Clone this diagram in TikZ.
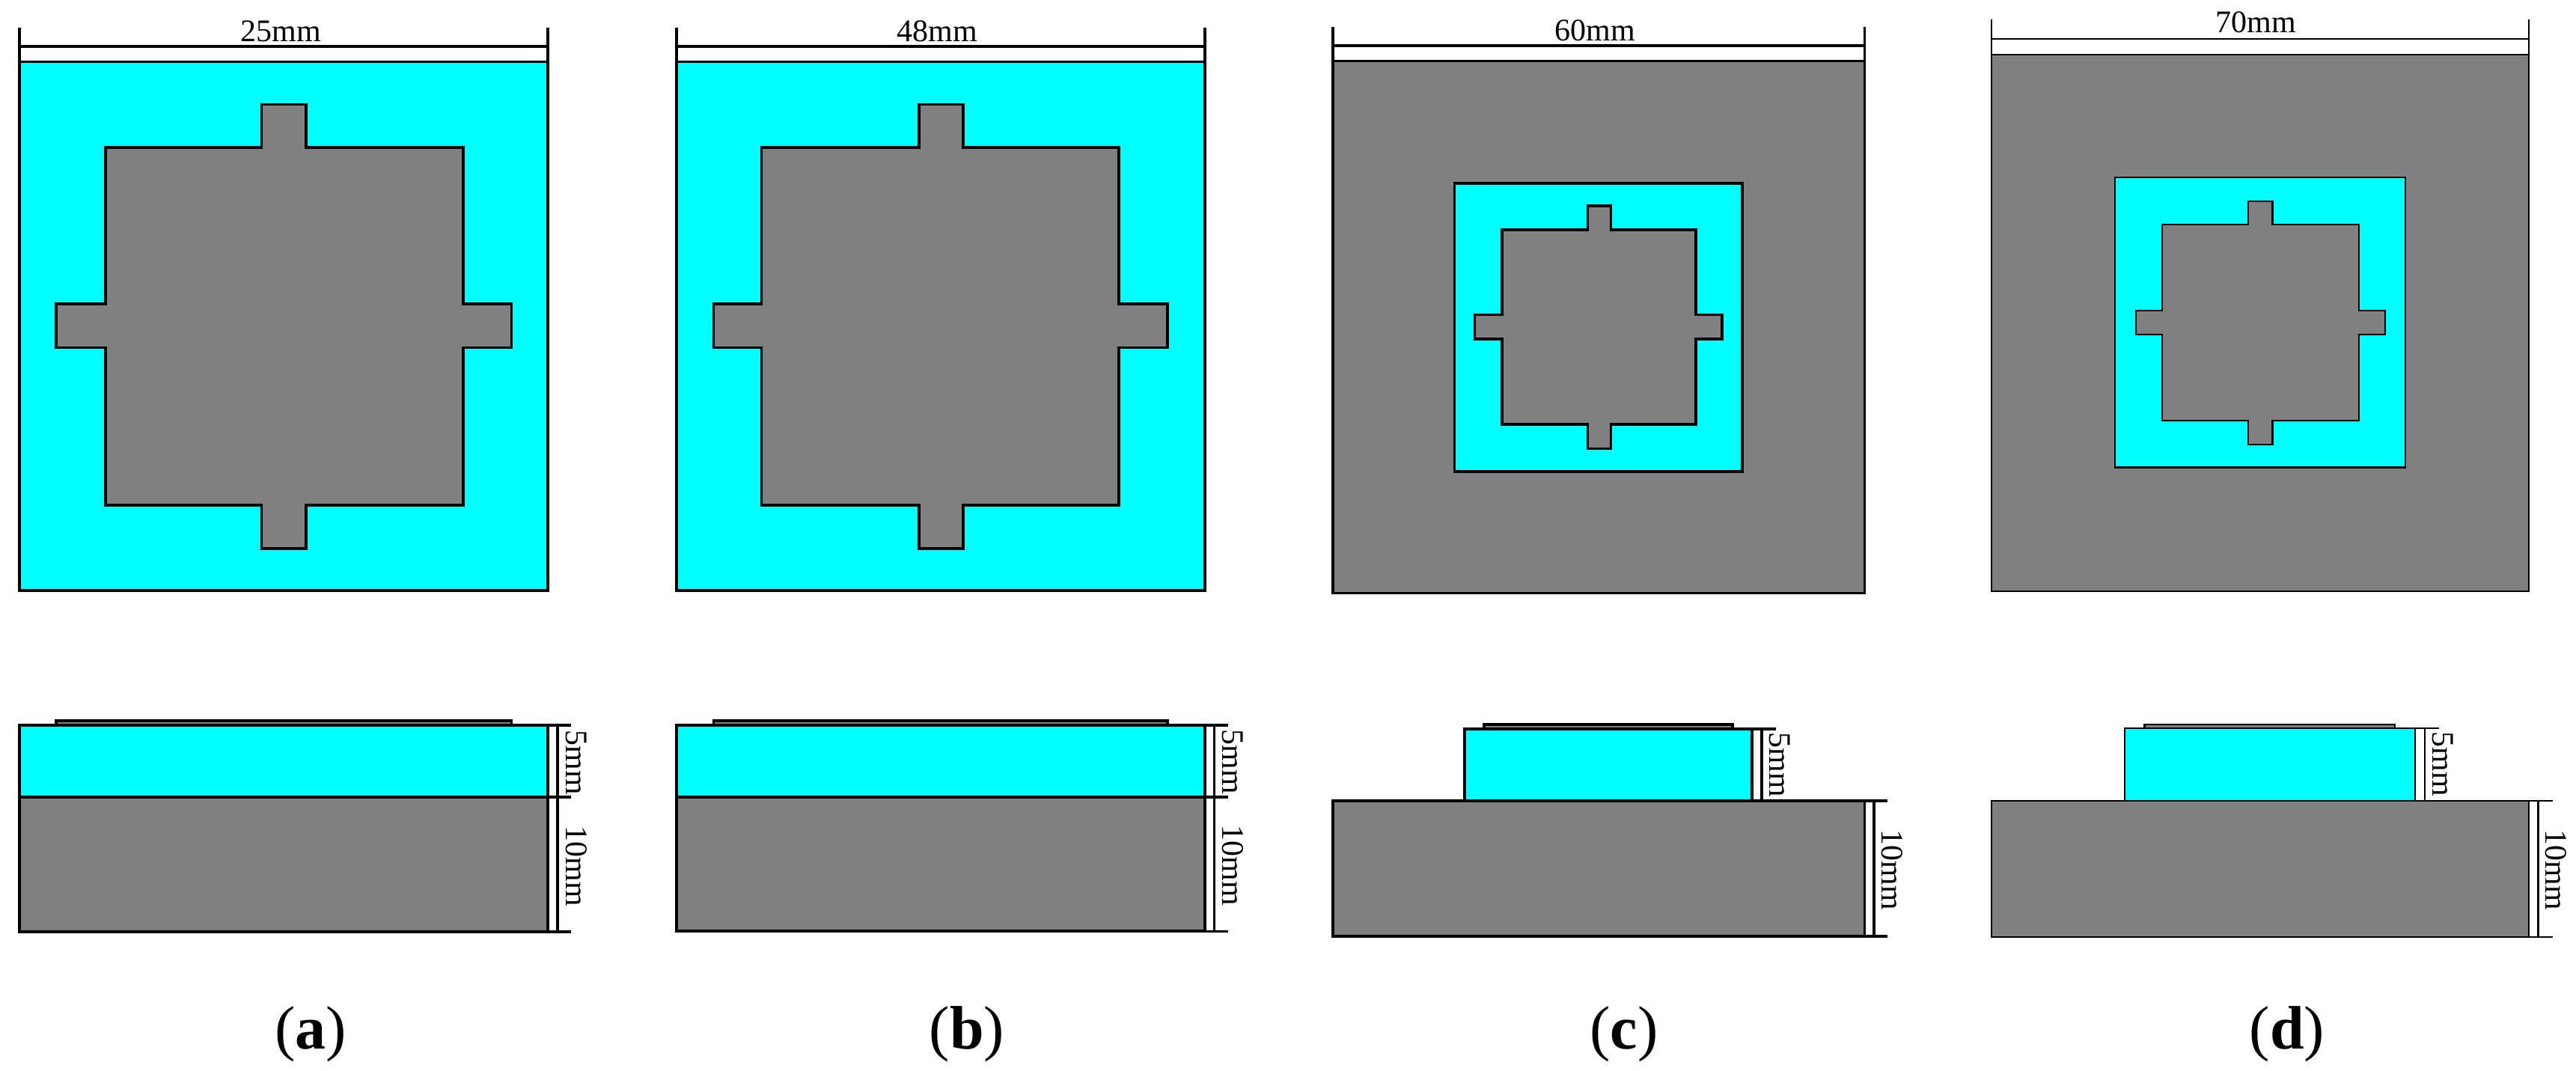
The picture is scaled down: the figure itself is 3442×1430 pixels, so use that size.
\documentclass[tikz,border=0pt]{standalone}
\usepackage{fontspec}
\setmainfont{Liberation Serif}
\definecolor{cy}{HTML}{00FFFF}
\definecolor{gy}{HTML}{808080}
\tikzset{
  x=0.5pt,y=-0.5pt,
  part/.style={draw=black,line join=miter,line width=#1},
  part/.default=1.85pt,
  dimtext/.style={font=\fontsize{21}{25}\selectfont,inner sep=0pt,anchor=base},
  sidetext/.style={dimtext,rotate=-90},
  caption/.style={font=\fontsize{41}{48}\selectfont,inner sep=0pt,anchor=base}
}
% y levels of a cross
\newcommand{\crossy}[6]{\def\ya{#1}\def\yb{#2}\def\yc{#3}\def\yd{#4}\def\ye{#5}\def\yf{#6}}
% #1 style, #2..#7 x levels
\newcommand{\drawcross}[7]{\draw[#1] (#3,\yb) -- (#4,\yb) -- (#4,\ya) -- (#5,\ya) -- (#5,\yb) -- (#6,\yb) -- (#6,\yc) -- (#7,\yc) -- (#7,\yd) -- (#6,\yd) -- (#6,\ye) -- (#5,\ye) -- (#5,\yf) -- (#4,\yf) -- (#4,\ye) -- (#3,\ye) -- (#3,\yd) -- (#2,\yd) -- (#2,\yc) -- (#3,\yc) -- cycle;}
\begin{document}
\begin{tikzpicture}
\useasboundingbox (0,0) rectangle (3442,1430);
% ---------- (a)
\draw[part,fill=cy] (25.8,82.6) rectangle (732,788.7);
\crossy{139.6}{197}{406}{464.4}{675}{733}
\drawcross{part,fill=gy}{75}{141}{349.4}{408.7}{619}{683.5}
\draw[part] (25.8,36.6) -- (25.8,82.6) (732,36.6) -- (732,82.6) (25.8,61.7) -- (732,61.7);
\node[dimtext] (la) at (375,55) {25mm};
\draw[part,fill=gy] (75,969.3) |- (683.5,963.3) -- (683.5,969.3);
\draw[part,fill=cy] (25.8,969.3) rectangle (732,1065);
\draw[part,fill=gy] (25.8,1065) rectangle (732,1244.7);
\draw[part] (732,969.3) -- (762.5,969.3) (732,1065) -- (762.5,1065) (732,1244.7) -- (762.5,1244.7) (745,969.3) -- (745,1244.7);
\node[sidetext] (sa1) at (756,1018.7) {5mm};
\node[sidetext] (sa2) at (756,1157) {10mm};
\node[caption] (ca) at (415,1401.7) {(\textbf{a})};
% ---------- (b)
\draw[part,fill=cy] (904,82.6) rectangle (1610,788.7);
\drawcross{part,fill=gy}{953.4}{1017.6}{1227.7}{1287}{1495.3}{1560}
\draw[part] (904,36.6) -- (904,82.6) (1610,36.6) -- (1610,82.6) (904,61.7) -- (1610,61.7);
\node[dimtext] (lb) at (1252,55) {48mm};
\draw[part,fill=gy] (953.4,969.3) |- (1560,963.3) -- (1560,969.3);
\draw[part,fill=cy] (904,969.3) rectangle (1610,1065);
\draw[part,fill=gy] (904,1065) rectangle (1610,1244);
\draw[part] (1610,969.3) -- (1640.7,969.3) (1610,1065) -- (1640.7,1065) (1610,1244.5) -- (1640.7,1244.5) (1622.6,969.3) -- (1622.6,1244.5);
\node[sidetext] (sb1) at (1633.6,1018) {5mm};
\node[sidetext] (sb2) at (1633.6,1156) {10mm};
\node[caption] (cb) at (1292,1401.7) {(\textbf{b})};
% ---------- (c)
\draw[part,fill=gy] (1781.3,81.6) rectangle (2491.6,792.4);
\draw[part,fill=cy] (1943.6,244.8) rectangle (2328.2,630.2);
\crossy{275}{307}{420.5}{453}{567}{599.4}
\drawcross{part,fill=gy}{1970.5}{2006.7}{2121.4}{2152.6}{2266.2}{2301.3}
\draw[part] (1781.3,35.6) -- (1781.3,81.6) (2491.6,35.6) -- (2491.6,81.6) (1781.3,60.7) -- (2491.6,60.7);
\node[dimtext] (lc) at (2131.2,54) {60mm};
\draw[part,fill=gy] (1983,974.3) |- (2315,968.3) -- (2315,974.3);
\draw[part,fill=cy] (1956.8,974.3) rectangle (2340.8,1070);
\draw[part,fill=gy] (1781.3,1070) rectangle (2491.6,1251);
\draw[part] (2340.8,974.3) -- (2372.6,974.3) (2354,974.3) -- (2354,1070) (2491.6,1070) -- (2522.3,1070) (2491.6,1251) -- (2522.3,1251) (2504.3,1070) -- (2504.3,1251);
\node[sidetext] (sc1) at (2364.4,1022) {5mm};
\node[sidetext] (sc2) at (2514,1162.6) {10mm};
\node[caption] (cc) at (2170,1401.7) {(\textbf{c})};
% ---------- (d)
\draw[part=1.1pt,fill=gy] (2661,73.2) rectangle (3379.3,789.7);
\draw[part=1.1pt,fill=cy] (2826,237) rectangle (3214,624.5);
\crossy{268.8}{300}{414.7}{447}{562}{594}
\drawcross{part=1.1pt,fill=gy}{2853.9}{2889}{3003.9}{3036.4}{3152}{3186.9}
\draw[part=1.1pt] (2661,26) -- (2661,73.2) (3379.3,26) -- (3379.3,73.2) (2661,52.3) -- (3379.3,52.3);
\node[dimtext] (ld) at (3014,43) {70mm};
\draw[part=1.1pt,fill=gy] (2865.4,973.3) |- (3200,967.7) -- (3200,973.3);
\draw[part=1.1pt,fill=cy] (2839.2,973.3) rectangle (3227.2,1069.7);
\draw[part=1.1pt,fill=gy] (2661,1069.7) rectangle (3379.3,1251.7);
\draw[part=1.1pt] (3227.2,973.3) -- (3258.7,973.3) (3240.3,973.3) -- (3240.3,1069.7) (3379.3,1069.7) -- (3410.8,1069.7) (3379.3,1251.7) -- (3410.8,1251.7) (3391.4,1069.7) -- (3391.4,1251.7);
\node[sidetext] (sd1) at (3250.8,1021) {5mm};
\node[sidetext] (sd2) at (3401.3,1162.5) {10mm};
\node[caption] (cd) at (3055.8,1401.7) {(\textbf{d})};
\end{tikzpicture}
\end{document}
